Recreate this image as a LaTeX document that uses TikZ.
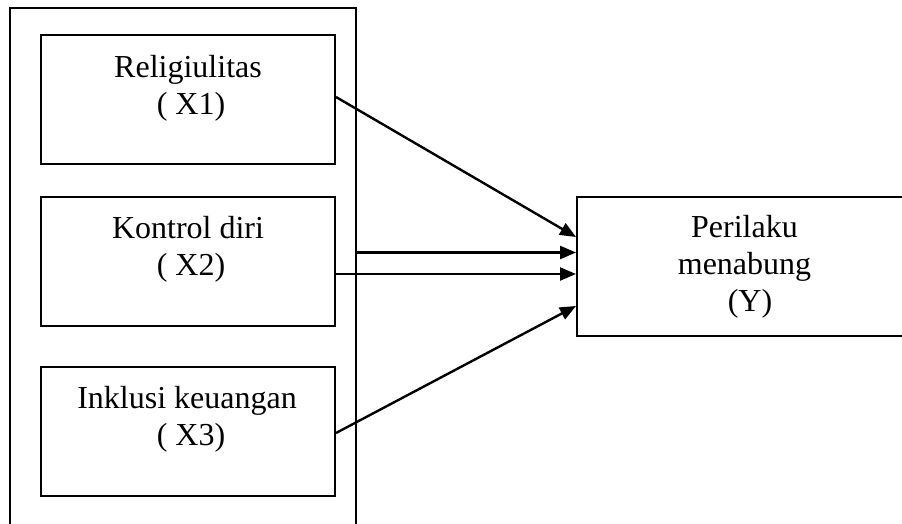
\documentclass[tikz,border=0pt]{standalone}
\usepackage{fontspec}
\setmainfont{Liberation Serif}
\usetikzlibrary{arrows.meta}
\begin{document}
\begin{tikzpicture}[x=1pt,y=-1pt,
  boxstyle/.style={draw=black,line width=2pt,inner sep=0pt,rectangle},
  lbl/.style={inner sep=0pt,anchor=base,font=\fontsize{32}{37}\selectfont},
  arr/.style={line width=2.4pt,-{Triangle[length=16pt,width=13pt]}}]
\useasboundingbox (0,0) rectangle (902,524);
\clip (0,0) rectangle (902,524);
% outer frame
\node[boxstyle,minimum width=346pt,minimum height=532pt] (outer) at (183,274) {};
% boxes
\node[boxstyle,minimum width=294pt,minimum height=129pt] (b1) at (188,99.5) {};
\node[boxstyle,minimum width=294pt,minimum height=129pt] (b2) at (188,261.5) {};
\node[boxstyle,minimum width=294pt,minimum height=129pt] (b3) at (188,431.5) {};
\node[boxstyle,minimum width=335pt,minimum height=139pt] (Y) at (744.5,266.5) {};
% texts
\node[lbl] (t11) at (188,78) {Religiulitas};
\node[lbl] (t12) at (191,115) {( X1)};
\node[lbl] (t21) at (188,238) {Kontrol diri};
\node[lbl] (t22) at (191,275) {( X2)};
\node[lbl] (t31) at (187,408) {Inklusi keuangan};
\node[lbl] (t32) at (191,445) {( X3)};
\node[lbl] (ty1) at (744.5,237) {Perilaku};
\node[lbl] (ty2) at (744.5,274) {menabung};
\node[lbl] (ty3) at (750,311) {(Y)};
% arrow end points on Y
\coordinate (y1) at ([yshift=29.5pt]Y.west);
\coordinate (y2) at ([yshift=14pt]Y.west);
\coordinate (y3) at ([yshift=-7.5pt]Y.west);
\coordinate (y4) at ([yshift=-39.5pt]Y.west);
% arrows
\draw[arr] ([yshift=2.5pt]b1.east) -- (y1);
\draw[arr] (outer.east |- y2) -- (y2);
\draw[arr] (b2.east |- y3) -- (y3);
\draw[arr] ([yshift=-1.5pt]b3.east) -- (y4);
\end{tikzpicture}
\end{document}
